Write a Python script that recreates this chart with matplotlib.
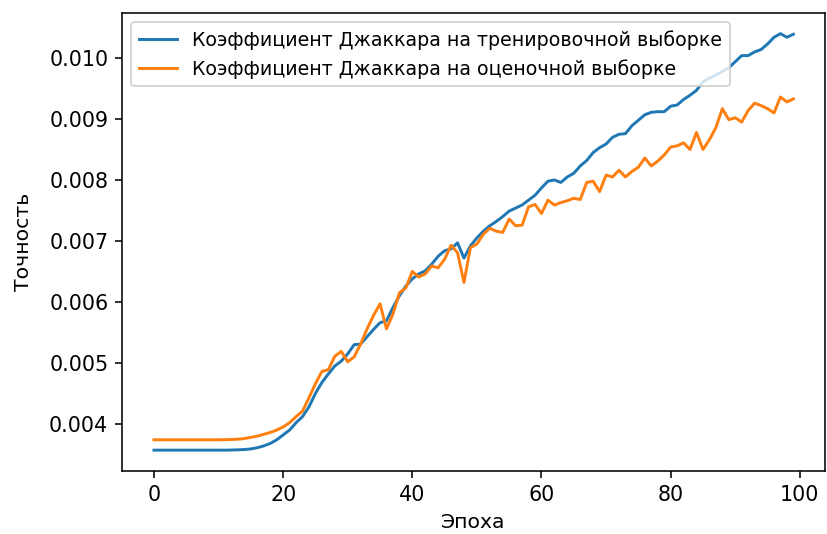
import numpy as np
import matplotlib
matplotlib.use('Agg')
from matplotlib import pyplot as plt

# Jaccard coefficient per epoch
train_jaccard = [
    0.00357, 0.00357, 0.00357, 0.00357, 0.00357, 0.00357, 0.00357, 0.00357, 0.00357, 0.00357,
    0.00357, 0.00357, 0.003572, 0.003576, 0.00358, 0.00359, 0.00361, 0.00364, 0.00368, 0.00374,
    0.00382, 0.0039, 0.00402, 0.00412, 0.00428, 0.0045, 0.00468, 0.00482, 0.00495, 0.00503,
    0.00515, 0.0053, 0.00531, 0.00543, 0.00555, 0.00566, 0.00569, 0.00591, 0.0061, 0.00626,
    0.00638, 0.00646, 0.00651, 0.00662, 0.00675, 0.00684, 0.00687, 0.00697, 0.00672, 0.00692,
    0.00705, 0.00716, 0.00725, 0.00732, 0.0074, 0.00749, 0.00754, 0.00759, 0.00767, 0.00775,
    0.00787, 0.00798, 0.008, 0.00796, 0.00805, 0.00811, 0.00823, 0.00832, 0.00845, 0.00853,
    0.00859, 0.0087, 0.00875, 0.00876, 0.00889, 0.00898, 0.00907, 0.00911, 0.00912, 0.00912,
    0.00921, 0.00923, 0.00932, 0.00939, 0.00947, 0.00961, 0.00967, 0.00972, 0.00978, 0.00984,
    0.00994, 0.01004, 0.01004, 0.0101, 0.01014, 0.01023, 0.01034, 0.0104, 0.01034, 0.01039,
]
val_jaccard = [
    0.00374, 0.00374, 0.00374, 0.00374, 0.00374, 0.00374, 0.00374, 0.00374, 0.00374, 0.00374,
    0.00374, 0.003742, 0.003745, 0.00375, 0.00376, 0.00378, 0.0038, 0.00383, 0.00386, 0.0039,
    0.00395, 0.00402, 0.00412, 0.00421, 0.00443, 0.00466, 0.00486, 0.00489, 0.00511, 0.00519,
    0.00502, 0.0051, 0.00531, 0.00556, 0.00578, 0.00597, 0.00556, 0.0058, 0.00615, 0.00623,
    0.0065, 0.00641, 0.00646, 0.00659, 0.00656, 0.0067, 0.00693, 0.00681, 0.00632, 0.00689,
    0.00695, 0.00711, 0.00721, 0.00716, 0.00714, 0.00736, 0.00725, 0.00726, 0.00756, 0.0076,
    0.00745, 0.00767, 0.00759, 0.00763, 0.00766, 0.0077, 0.00768, 0.00796, 0.00798, 0.00781,
    0.00808, 0.00805, 0.00816, 0.00805, 0.00814, 0.00821, 0.00836, 0.00823, 0.00831, 0.00841,
    0.00854, 0.00856, 0.00861, 0.0085, 0.00878, 0.0085, 0.00866, 0.00886, 0.00917, 0.00899,
    0.00902, 0.00895, 0.00914, 0.00926, 0.00922, 0.00917, 0.0091, 0.00936, 0.00928, 0.00933,
]
epochs = np.arange(len(train_jaccard))

train_label = 'Коэффициент Джаккара на тренировочной выборке'
val_label = 'Коэффициент Джаккара на оценочной выборке'

fig = plt.figure(figsize=(827 / 141, 534 / 141), dpi=141)
plt.subplots_adjust(left=0.1475, right=0.998, bottom=0.118, top=0.976)

plt.plot(epochs, train_jaccard, label=train_label)
plt.plot(epochs, val_jaccard, label=val_label)

plt.tick_params(labelsize=10.5)
plt.xlabel('Эпоха', fontsize=10.4)
plt.ylabel('Точность', fontsize=10.4, labelpad=8)
plt.legend(loc='upper left', fontsize=9.7)

plt.savefig('out.png', dpi=141)
plt.close()
